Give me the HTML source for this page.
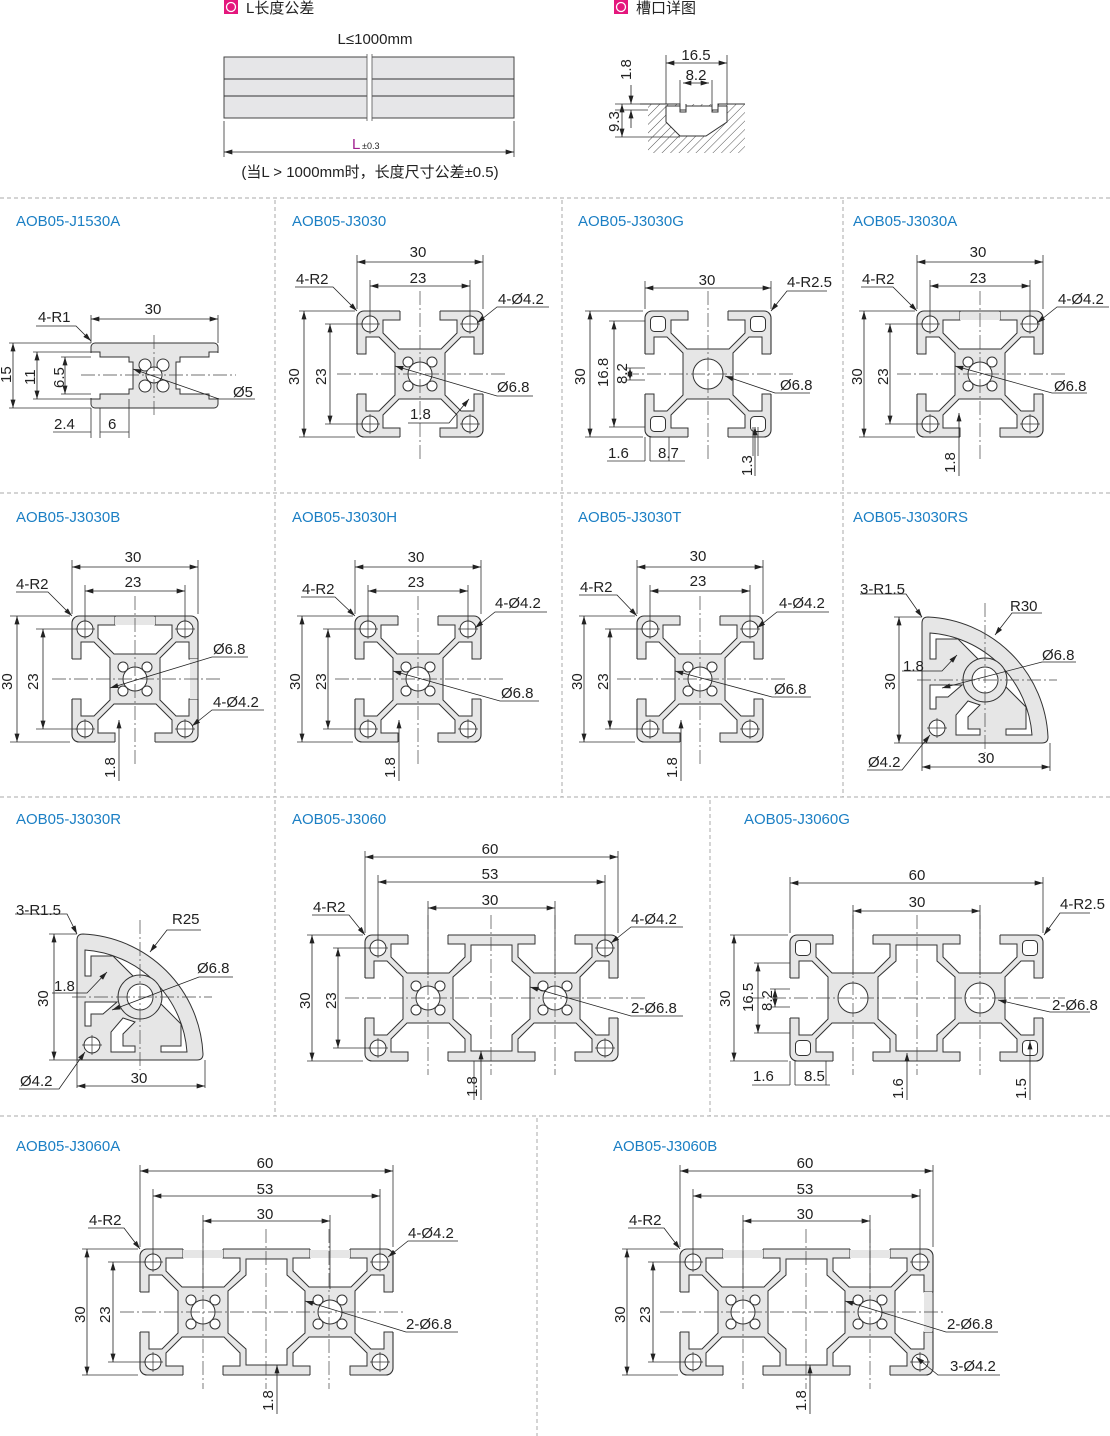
<!DOCTYPE html>
<html><head><meta charset="utf-8"><style>
body{margin:0;background:#fff}
svg{display:block;font-family:"Liberation Sans","Noto Sans CJK SC",sans-serif}
.t{stroke:#333;stroke-width:.8;fill:none}
.d{stroke:#222;stroke-width:.8;fill:none;marker-start:url(#a);marker-end:url(#a)}
.e{stroke:#222;stroke-width:.8;fill:none;marker-end:url(#a)}
.c{stroke:#444;stroke-width:.7;fill:none;stroke-dasharray:14 3 2 3}
.s{stroke:#aaa;stroke-width:1;stroke-dasharray:4 3}
text{font-size:15px;fill:#222}
.ti{fill:#1b7fc4;font-size:15px}
.m{text-anchor:middle}
</style></head><body>
<svg width="1110" height="1436" viewBox="0 0 1110 1436">
<defs>
<marker id="a" viewBox="0 0 10 6" refX="10" refY="3" markerWidth="9" markerHeight="5" markerUnits="userSpaceOnUse" orient="auto-start-reverse"><path d="M0 0L10 3L0 6z" fill="#222"/></marker>
<pattern id="h" width="6" height="6" patternUnits="userSpaceOnUse" patternTransform="rotate(45)"><line x1="0" y1="0" x2="0" y2="6" stroke="#555" stroke-width="1"/></pattern>
<g id="slot"><path d="M43 -3V9H26V22L42 38H84L100 22V9H83V-3Z" fill="#fff"/><path d="M43 0V9H26V22L42 38H84L100 22V9H83V0" fill="none" stroke="#333" stroke-width="1"/></g>
<g id="base"><rect x="0" y="0" width="126" height="126" rx="7" fill="#e6e6e6" stroke="#333" stroke-width="1.1"/>
<use href="#slot"/><use href="#slot" transform="rotate(90 63 63)"/><use href="#slot" transform="rotate(180 63 63)"/><use href="#slot" transform="rotate(270 63 63)"/></g>
<g id="ch"><circle cx="0" cy="0" r="8" fill="#fff" stroke="#333"/><path d="M-10 0H10M0 -10V10" stroke="#333" stroke-width=".7"/></g>
<g id="ctr" fill="#fff" stroke="#333" stroke-width="1"><circle cx="63" cy="63" r="12"/><circle cx="51" cy="51" r="5"/><circle cx="75" cy="51" r="5"/><circle cx="51" cy="75" r="5"/><circle cx="75" cy="75" r="5"/></g>
<g id="gh"><rect x="-7.5" y="-7.5" width="15" height="15" rx="4" fill="#fff" stroke="#333"/></g>
<g id="h30"><use href="#ctr"/><use href="#ch" x="13" y="13"/><use href="#ch" x="113" y="13"/><use href="#ch" x="13" y="113"/><use href="#ch" x="113" y="113"/></g>
<g id="h30g"><circle cx="63" cy="63" r="15" fill="#fff" stroke="#333"/><use href="#gh" x="13" y="13"/><use href="#gh" x="113" y="13"/><use href="#gh" x="13" y="113"/><use href="#gh" x="113" y="113"/></g>
<g id="p30"><use href="#base"/><use href="#h30"/></g>
<g id="p30g"><use href="#base"/><use href="#h30g"/></g>
<g id="b60"><rect x="0" y="0" width="253" height="126" rx="7" fill="#e6e6e6" stroke="#333" stroke-width="1.1"/>
<use href="#slot"/><use href="#slot" transform="translate(127 0)"/>
<use href="#slot" transform="rotate(180 63 63)"/><use href="#slot" transform="translate(127 0) rotate(180 63 63)"/>
<use href="#slot" transform="rotate(270 63 63)"/><use href="#slot" transform="translate(127 0) rotate(90 63 63)"/>
<path d="M106 10H147V26L165 42V84L147 100V116H106V100L88 84V42L106 26Z" fill="#fff" stroke="#333"/></g>
<g id="p60"><use href="#b60"/><use href="#ctr"/><use href="#ctr" x="127"/><use href="#ch" x="13" y="13"/><use href="#ch" x="240" y="13"/><use href="#ch" x="13" y="113"/><use href="#ch" x="240" y="113"/></g>
<g id="p60g"><use href="#b60"/><circle cx="63" cy="63" r="15" fill="#fff" stroke="#333"/><circle cx="190" cy="63" r="15" fill="#fff" stroke="#333"/><use href="#gh" x="13" y="13"/><use href="#gh" x="240" y="13"/><use href="#gh" x="13" y="113"/><use href="#gh" x="240" y="113"/></g>
<g id="q">
<path d="M0 0V-120Q0 -126 6 -126A126 126 0 0 1 126 -6Q126 0 120 0Z" fill="#e6e6e6" stroke="#333"/>
<path d="M8 -110V-84H14V-104H36L104 -36V-14H84V-8H110A110 110 0 0 0 8 -110Z" fill="#fff" stroke="#333"/>
<path d="M8 -58V-34H14V-46H26L40 -58Z" fill="#fff" stroke="#333"/>
<path d="M34 -8H58V-14H46V-26L58 -38L46 -42L34 -28Z" fill="#fff" stroke="#333"/>
<circle cx="63" cy="-63" r="22" fill="#e6e6e6" stroke="#333"/>
<circle cx="63" cy="-63" r="13" fill="#fff" stroke="#333"/>
<circle cx="15" cy="-15" r="8" fill="#fff" stroke="#333"/><path d="M5 -15H25M15 -25V-5" stroke="#333" stroke-width=".7"/>
</g>
</defs>

<!-- separators -->
<path class="s" d="M0 198H1110M0 493H1110M0 797H1110M0 1116H1110M275 200V493M562 200V493M843 200V493M275 495V797M562 495V797M843 495V797M275 800V1116M710 800V1116M537 1118V1436"/>

<!-- top section -->
<rect x="224" y="0" width="14" height="14" fill="#e4177d"/><circle cx="231" cy="7" r="4.5" fill="none" stroke="#fff" stroke-width="1.3"/>
<text x="246" y="13">L长度公差</text>
<rect x="614" y="0" width="14" height="14" fill="#e4177d"/><circle cx="621" cy="7" r="4.5" fill="none" stroke="#fff" stroke-width="1.3"/>
<text x="636" y="13">槽口详图</text>
<text x="375" y="44" class="m">L≤1000mm</text>
<rect x="224" y="57" width="290" height="61" fill="#e6e6e8" stroke="#444"/>
<path d="M224 79H514M224 96H514" stroke="#333"/>
<rect x="367" y="54" width="5" height="67" fill="#fff"/><path d="M367 54V121M372 54V121" stroke="#555" stroke-width=".8"/>
<path class="t" d="M224 121V157M514 121V157"/>
<line class="d" x1="224" y1="152" x2="514" y2="152"/>
<text x="352" y="149" style="fill:#a0208f;font-size:15px">L</text><text x="362" y="149" style="font-size:9px">±0.3</text>
<text x="370" y="177" class="m">(当L &gt; 1000mm时，长度尺寸公差±0.5)</text>
<!-- slot detail -->
<path d="M648 104H680V110H686V104H712V110H718V104H745V153H648Z" fill="url(#h)"/>
<path d="M666 106V122L680 136H706L727 122V106H718V112H712V106H686V112H680V106Z" fill="#fff" stroke="#333"/>
<path d="M640 104H680V110H686V104M712 104V110H718V104H745" fill="none" stroke="#333"/>
<path class="t" d="M666 55V104M727 55V104M680 80V104M712 80V104M615 137H680M615 110H648M615 104H648"/>
<line class="d" x1="666" y1="63" x2="727" y2="63"/><text x="696" y="60" class="m">16.5</text>
<line class="d" x1="683" y1="83" x2="709" y2="83"/><text x="696" y="80" class="m">8.2</text>
<line class="e" x1="631" y1="85" x2="631" y2="104"/><line class="e" x1="631" y1="128" x2="631" y2="110"/>
<text transform="translate(631,80) rotate(-90)">1.8</text>
<line class="d" x1="622" y1="104" x2="622" y2="137"/><text transform="translate(619,132) rotate(-90)">9.3</text>

<!-- titles -->
<text class="ti" x="16" y="226">AOB05-J1530A</text><text class="ti" x="292" y="226">AOB05-J3030</text><text class="ti" x="578" y="226">AOB05-J3030G</text><text class="ti" x="853" y="226">AOB05-J3030A</text>
<text class="ti" x="16" y="522">AOB05-J3030B</text><text class="ti" x="292" y="522">AOB05-J3030H</text><text class="ti" x="578" y="522">AOB05-J3030T</text><text class="ti" x="853" y="522">AOB05-J3030RS</text>
<text class="ti" x="16" y="824">AOB05-J3030R</text><text class="ti" x="292" y="824">AOB05-J3060</text><text class="ti" x="744" y="824">AOB05-J3060G</text>
<text class="ti" x="16" y="1151">AOB05-J3060A</text><text class="ti" x="613" y="1151">AOB05-J3060B</text>

<!-- J1530A -->
<g transform="translate(91,343)">
<rect x="0" y="0" width="127" height="65" rx="4" fill="#e6e6e6" stroke="#333"/>
<path d="M0 9H9V14H38V19H42V46H38V51H9V56H0Z" fill="#fff" stroke="#333"/>
<path d="M127 9H118V14H89V19H85V46H89V51H118V56H127Z" fill="#fff" stroke="#333"/>
<rect x="-2" y="10" width="3" height="45" fill="#fff"/><rect x="126" y="10" width="3" height="45" fill="#fff"/>
<g fill="#fff" stroke="#333"><circle cx="54" cy="22" r="6"/><circle cx="72" cy="22" r="6"/><circle cx="54" cy="43" r="6"/><circle cx="72" cy="43" r="6"/><circle cx="63" cy="32" r="8"/></g>
<path class="c" d="M-10 32H145M63 -8V72"/>
<path class="t" d="M0 -28V0M127 -28V0M-82 0H0M-82 65H0M-58 9H9M-58 56H9M-30 14H0M-30 51H0M0 65V95M9 65V95M38 56V95"/>
<line class="d" x1="0" y1="-24" x2="127" y2="-24"/><text x="62" y="-29" class="m">30</text>
<line class="d" x1="-78" y1="0" x2="-78" y2="65"/><text transform="translate(-80,40) rotate(-90)">15</text>
<line class="d" x1="-54" y1="9" x2="-54" y2="56"/><text transform="translate(-56,42) rotate(-90)">11</text>
<line class="d" x1="-26" y1="14" x2="-26" y2="51"/><text transform="translate(-27,45) rotate(-90)">6.5</text>
<path class="t" d="M-38 89H0M9 89H38"/><text x="-37" y="86">2.4</text><text x="17" y="86">6</text>
<path class="e" d="M-55 -17H-15L0 -2"/><text x="-53" y="-21">4-R1</text>
<path class="e" d="M164 56H128L42 26"/><text x="142" y="54">Ø5</text>
</g>

<!-- J3030 -->
<g transform="translate(357,311)"><use href="#p30"/><path class="c" d="M-20 63H150M63 -20V150"/>
<path class="t" d="M0 -56V-2M126 -56V-2M13 -31V5M113 -31V5M-58 0H-2M-58 126H-2M-32 13H5M-32 113H5"/>
<line class="d" x1="0" y1="-49" x2="126" y2="-49"/><line class="d" x1="13" y1="-25" x2="113" y2="-25"/>
<line class="d" x1="-53" y1="0" x2="-53" y2="126"/><line class="d" x1="-27" y1="13" x2="-27" y2="113"/>
<text x="61" y="-54" class="m">30</text><text x="61" y="-28" class="m">23</text>
<text transform="translate(-58,74) rotate(-90)">30</text><text transform="translate(-31,74) rotate(-90)">23</text>
<path class="e" d="M-62 -24H-24L0 0"/><text x="-61" y="-27">4-R2</text>
<path class="e" d="M192 -4H140L120 12"/><text x="141" y="-7">4-Ø4.2</text>
<path class="e" d="M176 85H140L38 55"/><text x="140" y="81">Ø6.8</text>
<path class="e" d="M51 112H92L112 88"/><text x="53" y="108">1.8</text>
</g>

<!-- J3030G -->
<g transform="translate(645,311)"><use href="#p30g"/><path class="c" d="M-20 63H150M63 -20V150"/>
<path class="t" d="M0 -30V-2M126 -30V-2M-60 0H-2M-60 126H-2M-36 10H0M-36 116H0M-20 57H0M-20 69H0M0 126V150M5 126V150M24 126V150M108 116V145M113 116V145"/>
<line class="d" x1="0" y1="-23" x2="126" y2="-23"/><text x="62" y="-26" class="m">30</text>
<line class="d" x1="-55" y1="0" x2="-55" y2="126"/><text transform="translate(-60,74) rotate(-90)">30</text>
<line class="d" x1="-31" y1="10" x2="-31" y2="116"/><text transform="translate(-37,76) rotate(-90)">16.8</text>
<line class="d" x1="-15" y1="57" x2="-15" y2="69"/><text transform="translate(-18,73) rotate(-90)">8.2</text>
<path class="t" d="M-38 150H0M5 150H40"/><text x="-37" y="147">1.6</text><text x="13" y="147">8.7</text>
<line class="e" x1="110" y1="165" x2="110" y2="116"/><text transform="translate(107,165) rotate(-90)">1.3</text>
<path class="e" d="M182 -20H142L126 0"/><text x="142" y="-24">4-R2.5</text>
<path class="e" d="M165 82H130L80 65"/><text x="135" y="79">Ø6.8</text>
</g>

<!-- J3030A -->
<g transform="translate(917,311)"><use href="#p30"/><rect x="43" y="1" width="40" height="8" fill="#e6e6e6"/><path d="M43 0H83" stroke="#333"/><path class="c" d="M-20 63H150M63 -20V150"/>
<path class="t" d="M0 -56V-2M126 -56V-2M13 -31V5M113 -31V5M-58 0H-2M-58 126H-2M-32 13H5M-32 113H5"/>
<line class="d" x1="0" y1="-49" x2="126" y2="-49"/><line class="d" x1="13" y1="-25" x2="113" y2="-25"/>
<line class="d" x1="-53" y1="0" x2="-53" y2="126"/><line class="d" x1="-27" y1="13" x2="-27" y2="113"/>
<text x="61" y="-54" class="m">30</text><text x="61" y="-28" class="m">23</text>
<text transform="translate(-55,74) rotate(-90)">30</text><text transform="translate(-29,74) rotate(-90)">23</text>
<path class="e" d="M-56 -24H-24L0 0"/><text x="-55" y="-27">4-R2</text>
<path class="e" d="M192 -4H140L120 12"/><text x="141" y="-7">4-Ø4.2</text>
<path class="e" d="M170 82H135L38 55"/><text x="137" y="80">Ø6.8</text>
<line class="e" x1="42" y1="165" x2="42" y2="102"/><text transform="translate(38,162) rotate(-90)">1.8</text>
</g>

<!-- J3030B -->
<g transform="translate(72,616)"><use href="#p30"/><rect x="43" y="1" width="40" height="8" fill="#e6e6e6"/><rect x="118" y="43" width="8" height="40" fill="#e6e6e6"/><path d="M43 0H83M126 43V83" stroke="#333"/><path class="c" d="M-20 63H150M63 -20V150"/>
<path class="t" d="M0 -56V-2M126 -56V-2M13 -31V5M113 -31V5M-62 0H-2M-62 126H-2M-36 13H5M-36 113H5"/>
<line class="d" x1="0" y1="-49" x2="126" y2="-49"/><line class="d" x1="13" y1="-25" x2="113" y2="-25"/>
<line class="d" x1="-55" y1="0" x2="-55" y2="126"/><line class="d" x1="-29" y1="13" x2="-29" y2="113"/>
<text x="61" y="-54" class="m">30</text><text x="61" y="-29" class="m">23</text>
<text transform="translate(-60,74) rotate(-90)">30</text><text transform="translate(-34,74) rotate(-90)">23</text>
<path class="e" d="M-56 -24H-24L0 0"/><text x="-56" y="-27">4-R2</text>
<path class="e" d="M176 41H140L38 72"/><text x="141" y="38">Ø6.8</text>
<path class="e" d="M192 94H140L120 110"/><text x="141" y="91">4-Ø4.2</text>
<line class="e" x1="47" y1="165" x2="47" y2="104"/><text transform="translate(43,162) rotate(-90)">1.8</text>
</g>

<!-- J3030H -->
<g transform="translate(355,616)"><use href="#p30"/><path class="c" d="M-20 63H150M63 -20V150"/>
<path class="t" d="M0 -56V-2M126 -56V-2M13 -31V5M113 -31V5M-58 0H-2M-58 126H-2M-32 13H5M-32 113H5"/>
<line class="d" x1="0" y1="-49" x2="126" y2="-49"/><line class="d" x1="13" y1="-25" x2="113" y2="-25"/>
<line class="d" x1="-53" y1="0" x2="-53" y2="126"/><line class="d" x1="-27" y1="13" x2="-27" y2="113"/>
<text x="61" y="-54" class="m">30</text><text x="61" y="-29" class="m">23</text>
<text transform="translate(-55,74) rotate(-90)">30</text><text transform="translate(-29,74) rotate(-90)">23</text>
<path class="e" d="M-54 -19H-20L0 0"/><text x="-53" y="-22">4-R2</text>
<path class="e" d="M192 -4H140L120 12"/><text x="140" y="-8">4-Ø4.2</text>
<path class="e" d="M184 85H145L38 55"/><text x="146" y="82">Ø6.8</text>
<line class="e" x1="44" y1="165" x2="44" y2="104"/><text transform="translate(40,162) rotate(-90)">1.8</text>
</g>

<!-- J3030T -->
<g transform="translate(637,616)"><use href="#p30"/><path class="c" d="M-20 63H150M63 -20V150"/>
<path class="t" d="M0 -56V-2M126 -56V-2M13 -31V5M113 -31V5M-58 0H-2M-58 126H-2M-32 13H5M-32 113H5"/>
<line class="d" x1="0" y1="-49" x2="126" y2="-49"/><line class="d" x1="13" y1="-25" x2="113" y2="-25"/>
<line class="d" x1="-53" y1="0" x2="-53" y2="126"/><line class="d" x1="-27" y1="13" x2="-27" y2="113"/>
<text x="61" y="-55" class="m">30</text><text x="61" y="-30" class="m">23</text>
<text transform="translate(-55,74) rotate(-90)">30</text><text transform="translate(-29,74) rotate(-90)">23</text>
<path class="e" d="M-58 -21H-20L0 0"/><text x="-57" y="-24">4-R2</text>
<path class="e" d="M192 -4H140L120 12"/><text x="142" y="-8">4-Ø4.2</text>
<path class="e" d="M174 81H135L38 55"/><text x="137" y="78">Ø6.8</text>
<line class="e" x1="44" y1="165" x2="44" y2="104"/><text transform="translate(40,162) rotate(-90)">1.8</text>
</g>

<!-- J3030RS -->
<g transform="translate(922,743)"><use href="#q"/>
<path class="c" d="M-5 -63H135M63 -140V10"/>
<path class="t" d="M-28 -126H0M-28 0H0M0 0V28M128 0V28"/>
<line class="d" x1="-23" y1="-126" x2="-23" y2="0"/><text transform="translate(-27,-53) rotate(-90)">30</text>
<line class="d" x1="0" y1="24" x2="128" y2="24"/><text x="64" y="20" class="m">30</text>
<path class="e" d="M-62 -149H-16L0 -126"/><text x="-62" y="-149">3-R1.5</text>
<path class="e" d="M120 -130H90L73 -108"/><text x="88" y="-132">R30</text>
<path class="e" d="M154 -81H120L20 -55"/><text x="120" y="-83">Ø6.8</text>
<path class="e" d="M-20 -72H20L35 -88"/><text x="-19" y="-72">1.8</text>
<path class="e" d="M-55 27H-20L8 -8"/><text x="-54" y="24">Ø4.2</text>
</g>

<!-- J3030R -->
<g transform="translate(77,1060)"><use href="#q"/>
<path class="c" d="M-5 -63H135M63 -140V10"/>
<path class="t" d="M-28 -126H0M-28 0H0M0 0V28M128 0V28"/>
<line class="d" x1="-23" y1="-126" x2="-23" y2="0"/><text transform="translate(-29,-53) rotate(-90)">30</text>
<line class="d" x1="0" y1="26" x2="128" y2="26"/><text x="62" y="23" class="m">30</text>
<path class="e" d="M-62 -146H-10L0 -126"/><text x="-61" y="-145">3-R1.5</text>
<path class="e" d="M124 -130H90L73 -108"/><text x="95" y="-136">R25</text>
<path class="e" d="M156 -83H122L35 -50"/><text x="120" y="-87">Ø6.8</text>
<path class="e" d="M-25 -67H10L30 -88"/><text x="-23" y="-69">1.8</text>
<path class="e" d="M-58 29H-18L8 -8"/><text x="-57" y="26">Ø4.2</text>
</g>

<!-- J3060 -->
<g transform="translate(365,935)"><use href="#p60"/><path class="c" d="M-20 63H280M63 -20V140M190 -20V140M126 -20V140"/>
<path class="t" d="M0 -84V-2M253 -84V-2M13 -60V5M240 -60V5M63 -34V40M190 -34V40M-58 0H-2M-58 126H-2M-32 13H5M-32 113H5M109 126V165"/>
<line class="d" x1="0" y1="-78" x2="253" y2="-78"/><text x="125" y="-81" class="m">60</text>
<line class="d" x1="13" y1="-53" x2="240" y2="-53"/><text x="125" y="-56" class="m">53</text>
<line class="d" x1="63" y1="-27" x2="190" y2="-27"/><text x="125" y="-30" class="m">30</text>
<line class="d" x1="-53" y1="0" x2="-53" y2="126"/><line class="d" x1="-27" y1="13" x2="-27" y2="113"/>
<text transform="translate(-55,74) rotate(-90)">30</text><text transform="translate(-29,74) rotate(-90)">23</text>
<path class="e" d="M-53 -20H-16L0 0"/><text x="-52" y="-23">4-R2</text>
<path class="e" d="M318 -8H266L246 8"/><text x="266" y="-11">4-Ø4.2</text>
<path class="e" d="M318 81H266L165 52"/><text x="266" y="78">2-Ø6.8</text>
<line class="e" x1="116" y1="165" x2="116" y2="116"/><text transform="translate(112,162) rotate(-90)">1.8</text>
</g>

<!-- J3060G -->
<g transform="translate(790,935)"><use href="#p60g"/><path class="c" d="M-40 63H275M63 -20V140M190 -20V140M127 -20V140"/>
<path class="t" d="M0 -58V-2M253 -58V-2M63 -30V40M190 -30V40M-60 0H-2M-60 126H-2M-36 28H0M-36 98H0M-20 54H0M-20 72H0M0 126V150M5 126V150M36 126V150"/>
<line class="d" x1="0" y1="-52" x2="253" y2="-52"/><text x="127" y="-55" class="m">60</text>
<line class="d" x1="63" y1="-24" x2="190" y2="-24"/><text x="127" y="-28" class="m">30</text>
<line class="d" x1="-56" y1="0" x2="-56" y2="126"/><text transform="translate(-60,72) rotate(-90)">30</text>
<line class="d" x1="-32" y1="28" x2="-32" y2="98"/><text transform="translate(-37,77) rotate(-90)">16.5</text>
<line class="d" x1="-15" y1="54" x2="-15" y2="72"/><text transform="translate(-18,76) rotate(-90)">8.2</text>
<path class="t" d="M-38 150H0M5 150H40"/><text x="-37" y="146">1.6</text><text x="14" y="146">8.5</text>
<line class="e" x1="117" y1="165" x2="117" y2="118"/><text transform="translate(113,164) rotate(-90)">1.6</text>
<line class="e" x1="240" y1="165" x2="240" y2="106"/><text transform="translate(236,164) rotate(-90)">1.5</text>
<path class="e" d="M300 -22H270L254 0"/><text x="270" y="-26">4-R2.5</text>
<path class="e" d="M300 77H260L208 65"/><text x="262" y="75">2-Ø6.8</text>
</g>

<!-- J3060A -->
<g transform="translate(140,1249)"><use href="#p60"/><rect x="43" y="1" width="40" height="8" fill="#e6e6e6"/><rect x="170" y="1" width="40" height="8" fill="#e6e6e6"/><path class="c" d="M-20 63H265M63 -20V140M189 -20V140M126 -20V140"/>
<path class="t" d="M0 -84V-2M253 -84V-2M13 -60V5M240 -60V5M63 -34V40M190 -34V40M-58 0H-2M-58 126H-2M-32 13H5M-32 113H5"/>
<line class="d" x1="0" y1="-78" x2="253" y2="-78"/><text x="125" y="-81" class="m">60</text>
<line class="d" x1="13" y1="-53" x2="240" y2="-53"/><text x="125" y="-55" class="m">53</text>
<line class="d" x1="63" y1="-28" x2="190" y2="-28"/><text x="125" y="-30" class="m">30</text>
<line class="d" x1="-53" y1="0" x2="-53" y2="126"/><line class="d" x1="-27" y1="13" x2="-27" y2="113"/>
<text transform="translate(-55,74) rotate(-90)">30</text><text transform="translate(-30,74) rotate(-90)">23</text>
<path class="e" d="M-52 -21H-16L0 0"/><text x="-51" y="-24">4-R2</text>
<path class="e" d="M318 -8H268L248 8"/><text x="268" y="-11">4-Ø4.2</text>
<path class="e" d="M318 83H266L165 52"/><text x="266" y="80">2-Ø6.8</text>
<line class="e" x1="137" y1="165" x2="137" y2="116"/><text transform="translate(133,162) rotate(-90)">1.8</text>
</g>

<!-- J3060B -->
<g transform="translate(680,1249)"><use href="#p60"/><rect x="43" y="1" width="40" height="8" fill="#e6e6e6"/><rect x="170" y="1" width="40" height="8" fill="#e6e6e6"/><rect x="244" y="43" width="8" height="40" fill="#e6e6e6"/><path d="M253 40V86" stroke="#333"/><path class="c" d="M-20 63H265M63 -20V140M190 -20V140M126 -20V140"/>
<path class="t" d="M0 -84V-2M253 -84V-2M13 -60V5M240 -60V5M63 -34V40M190 -34V40M-58 0H-2M-58 126H-2M-32 13H5M-32 113H5"/>
<line class="d" x1="0" y1="-78" x2="253" y2="-78"/><text x="125" y="-81" class="m">60</text>
<line class="d" x1="13" y1="-53" x2="240" y2="-53"/><text x="125" y="-55" class="m">53</text>
<line class="d" x1="63" y1="-28" x2="190" y2="-28"/><text x="125" y="-30" class="m">30</text>
<line class="d" x1="-53" y1="0" x2="-53" y2="126"/><line class="d" x1="-27" y1="13" x2="-27" y2="113"/>
<text transform="translate(-55,74) rotate(-90)">30</text><text transform="translate(-30,74) rotate(-90)">23</text>
<path class="e" d="M-52 -21H-16L0 0"/><text x="-51" y="-24">4-R2</text>
<path class="e" d="M318 83H266L165 52"/><text x="267" y="80">2-Ø6.8</text>
<path class="e" d="M320 126H258L236 108"/><text x="270" y="122">3-Ø4.2</text>
<line class="e" x1="130" y1="165" x2="130" y2="116"/><text transform="translate(126,162) rotate(-90)">1.8</text>
</g>
</svg>
</body></html>
